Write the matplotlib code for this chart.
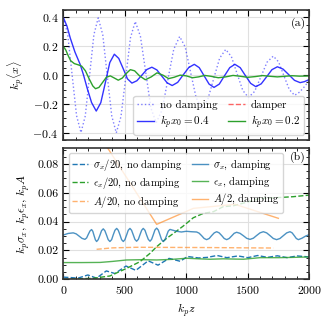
# two panel chart: centroid oscillation (a) and beam size / emittance / amplitude (b)

import matplotlib
matplotlib.use("Agg")
import matplotlib.pyplot as plt
from matplotlib.ticker import AutoMinorLocator

plt.rcParams["font.family"] = "serif"
plt.rcParams["font.serif"] = ["cmr10", "DejaVu Serif"]
plt.rcParams["mathtext.fontset"] = "cm"
plt.rcParams["axes.formatter.use_mathtext"] = True
plt.rcParams["font.size"] = 8.5

# panel (a): k_p <x> vs k_p z
z_nodamp = [0, 36, 72, 108, 144, 179, 214, 249, 284, 321, 357, 394, 431,
            469, 508, 546, 585, 627, 670, 712, 755, 803, 850, 898, 946,
            991, 1035, 1080, 1125, 1174, 1222, 1271, 1320, 1366, 1412, 1459,
            1505, 1555, 1606, 1656, 1707, 1750, 1793, 1837, 1880, 1920, 1960, 2000]
x_nodamp = [0.40, 0.283, 0.001, -0.281, -0.398, -0.282, 0.0, 0.281, 0.397, 0.280, 0.0, -0.283, -0.40,
            -0.287, -0.014, 0.259, 0.372, 0.269, 0.021, -0.227, -0.33, -0.242, -0.031, 0.180, 0.268,
            0.195, 0.019, -0.157, -0.23, -0.170, -0.026, 0.118, 0.178, 0.129, 0.012, -0.106,
            -0.155, -0.113, -0.012, 0.090, 0.132, 0.092, -0.004, -0.100, -0.14, -0.118, -0.08, -0.035]

z_x04 = [0, 30, 57, 95, 138, 165, 193, 230, 268, 305, 342, 378, 415, 451, 487, 522, 558,
         598, 639, 679, 720, 761, 803, 844, 885, 930, 975, 1020, 1065, 1105, 1145, 1185, 1225,
         1268, 1310, 1353, 1395, 1438, 1480, 1523, 1565, 1609, 1653, 1696, 1740,
         1786, 1833, 1879, 1925, 1960, 2000]
x_x04 = [0.40, 0.34, 0.257, 0.16, 0.073, 0.0, -0.087, -0.19, -0.249, -0.191, -0.052, 0.087, 0.145,
         0.116, 0.045, -0.026, -0.055, -0.039, 0.0, 0.039, 0.055, 0.036, -0.009, -0.053, -0.072,
         -0.050, 0.002, 0.053, 0.075, 0.052, -0.005, -0.062, -0.085, -0.062, -0.005, 0.052, 0.075,
         0.052, -0.003, -0.057, -0.08, -0.060, -0.011, 0.038, 0.058, 0.042, 0.003, -0.036, -0.052,
         -0.045, -0.03]

z_x02 = [0, 20, 40, 60, 90, 120, 150, 180, 210, 240, 262, 290, 320, 350, 382, 415, 447,
         480, 510, 545, 580, 620, 667, 715, 762, 810, 856, 900, 950, 1000, 1050, 1100, 1150,
         1200, 1260, 1320, 1380, 1440, 1500, 1560, 1620, 1680, 1740, 1800, 1860, 1920, 2000]
x_x02 = [0.20, 0.175, 0.135, 0.10, 0.08, 0.072, 0.062, 0.03, -0.025, -0.075, -0.094, -0.085,
         -0.05, -0.015, -0.005, -0.02, -0.035, -0.02, 0.01, 0.038, 0.03, -0.005, -0.032, -0.012,
         0.016, 0.0, -0.024, -0.015, 0.0, -0.005, -0.018, -0.012, -0.002, -0.008, -0.018, -0.012,
         -0.002, -0.008, -0.015, -0.01, -0.003, -0.008, -0.012, -0.008, -0.004, -0.007, -0.006]

# panel (b)
z_sig_nd = [0, 60, 120, 200, 270, 350, 420, 510, 590, 690, 770, 860, 950, 1010, 1100, 1170,
            1250, 1330, 1420, 1500, 1580, 1660, 1740, 1820, 1900, 2000]
sig_nd = [0.0015, 0.0012, 0.0008, 0.003, 0.0008, 0.0058, 0.004, 0.0092, 0.0062, 0.0128, 0.0098,
          0.0145, 0.0125, 0.0158, 0.0148, 0.0152, 0.0165, 0.015, 0.0162, 0.015, 0.0165, 0.0152,
          0.0163, 0.015, 0.0162, 0.0155]

z_eps_nd = [0, 244, 379, 515, 623, 705, 759, 840, 908, 976, 1057, 1138, 1220, 1301, 1382,
            1490, 1599, 1734, 1870, 2000]
eps_nd = [0.0, 0.0007, 0.0023, 0.0076, 0.0122, 0.018, 0.0226, 0.0284, 0.0326, 0.037, 0.0427,
          0.0457, 0.0469, 0.0504, 0.051, 0.0534, 0.0561, 0.0566, 0.0573, 0.0584]

z_amp_nd = [271, 400, 600, 900, 1200, 1500, 1707]
amp_nd = [0.0208, 0.0218, 0.0222, 0.0221, 0.022, 0.0218, 0.0217]

z_sig_d = [0, 40, 81, 105, 128, 152, 176, 190, 203, 217, 230, 240, 250, 261, 271,
           284, 298, 311, 325, 338, 352, 365, 379, 393, 406, 420, 434, 447, 461, 474, 488,
           501, 515, 528, 542, 555, 569, 582, 596, 610, 623, 637, 650, 664, 677, 691, 705,
           718, 732, 745, 759, 772, 786, 799, 813, 826, 840, 853, 867, 921, 960, 1000, 1040,
           1084, 1104, 1125, 1145, 1165, 1186, 1206, 1227, 1247, 1267, 1288, 1308, 1328,
           1348, 1369, 1389, 1409, 1436, 1464, 1491, 1518, 1545, 1572, 1599, 1626,
           1653, 1680, 1707, 1734, 1761, 1789, 1816, 1843, 1860, 1877, 1894, 1911, 1940, 1970, 2000]
sig_d = [0.0307, 0.0318, 0.0322, 0.0315, 0.0300, 0.0284, 0.0277, 0.0287, 0.0311, 0.0335, 0.0345,
         0.0333, 0.0304, 0.0274, 0.0262, 0.0275, 0.0306, 0.0337, 0.0350, 0.0337, 0.0306, 0.0275,
         0.0262, 0.0275, 0.0308, 0.0340, 0.0353, 0.0340, 0.0308, 0.0275, 0.0262, 0.0275, 0.0308,
         0.0340, 0.0353, 0.0340, 0.0308, 0.0277, 0.0264, 0.0277, 0.0308, 0.0340, 0.0353, 0.0340,
         0.0308, 0.0277, 0.0264, 0.0277, 0.0310, 0.0342, 0.0355, 0.0342, 0.0308, 0.0275, 0.0262,
         0.0274, 0.0304, 0.0334, 0.0346, 0.0333, 0.0328, 0.0333, 0.0330, 0.0328, 0.0320, 0.0302,
         0.0283, 0.0275, 0.0283, 0.0303, 0.0322, 0.0330, 0.0322, 0.0303, 0.0283, 0.0275, 0.0283,
         0.0301, 0.0319, 0.0326, 0.0319, 0.0302, 0.0284, 0.0277, 0.0285, 0.0304, 0.0322, 0.0330,
         0.0322, 0.0303, 0.0283, 0.0275, 0.0283, 0.0303, 0.0322, 0.0330, 0.0322, 0.0303, 0.0283,
         0.0275, 0.0285, 0.0300, 0.0310]

z_eps_d = [0, 150, 300, 400, 515, 640, 759, 880, 1003, 1100, 1192, 1300, 1463, 1599, 1750, 1870, 2000]
eps_d = [0.0116, 0.0116, 0.0117, 0.0124, 0.0134, 0.0136, 0.0134, 0.0138, 0.0146, 0.0142, 0.0139,
         0.0142, 0.0139, 0.0150, 0.0150, 0.0152, 0.0155]

z_amp_d = [271, 759, 1057, 1396, 1748]
amp_d = [0.103, 0.0381, 0.0492, 0.052, 0.0423]


def style_ax(ax):
  ax.tick_params(which="both", direction="in", top=True, right=True)
  ax.tick_params(which="major", length=4)
  ax.tick_params(which="minor", length=2)
  ax.xaxis.set_minor_locator(AutoMinorLocator(5))
  ax.yaxis.set_minor_locator(AutoMinorLocator(4))
  ax.grid(True, color="0.88", linewidth=0.8)
  for s in ax.spines.values():
    s.set_color("0.2")
    s.set_linewidth(1.2)


fig = plt.figure(figsize=(3.33, 3.28), dpi=100)
ax1 = fig.add_axes([0.190, 0.573, 0.739, 0.398])
ax2 = fig.add_axes([0.190, 0.1485, 0.739, 0.400])

ax1.plot(z_nodamp, x_nodamp, ":", color="b", alpha=0.5, lw=1.0, label="no damping")
ax1.plot(z_x04, x_x04, "-", color="b", alpha=0.8, lw=1.0, label=r"$k_px_0=0.4$")
ax1.plot([], [], "--", color="r", alpha=0.6, lw=1.0, label="damper")
ax1.plot(z_x02, x_x02, "-", color="C2", lw=1.0, label=r"$k_px_0=0.2$")
ax1.set_xlim(0, 2000)
ax1.set_ylim(-0.45, 0.455)
ax1.set_xticks([0, 500, 1000, 1500, 2000])
ax1.set_xticklabels([])
ax1.set_yticks([-0.4, -0.2, 0.0, 0.2, 0.4])
ax1.set_ylabel(r"$k_p\langle x\rangle$")
style_ax(ax1)
ax1.text(0.985, 0.935, "(a)", transform=ax1.transAxes, ha="right", va="top")
ax1.legend(loc="lower right", ncol=2, fontsize=8, handlelength=1.5,
           columnspacing=1.0, borderpad=0.35, labelspacing=0.3, handletextpad=0.5)

ax2.plot(z_sig_nd, sig_nd, "--", color="C0", lw=1.0, label=r"$\sigma_x/20$, no damping")
ax2.plot(z_eps_nd, eps_nd, "--", color="C2", lw=1.0, label=r"$\epsilon_x/20$, no damping")
ax2.plot(z_amp_nd, amp_nd, "--", color="C1", alpha=0.6, lw=1.0, label=r"$A/20$, no damping")
ax2.plot(z_sig_d, sig_d, "-", color="C0", alpha=0.8, lw=1.0, label=r"$\sigma_x$, damping")
ax2.plot(z_eps_d, eps_d, "-", color="C2", alpha=0.8, lw=1.0, label=r"$\epsilon_x$, damping")
ax2.plot(z_amp_d, amp_d, "-", color="C1", alpha=0.6, lw=1.0, label=r"$A/2$, damping")
ax2.set_xlim(0, 2000)
ax2.set_ylim(0, 0.091)
ax2.set_xticks([0, 500, 1000, 1500, 2000])
ax2.set_yticks([0.0, 0.02, 0.04, 0.06, 0.08])
ax2.set_yticklabels(["0.00", "0.02", "0.04", "0.06", "0.08"])
ax2.set_xlabel(r"$k_pz$")
ax2.set_ylabel(r"$k_p\sigma_x,\,k_p\epsilon_x,\,k_pA$")
style_ax(ax2)
ax2.text(0.985, 0.975, "(b)", transform=ax2.transAxes, ha="right", va="top")
ax2.legend(loc="upper left", ncol=2, fontsize=7.6, handlelength=1.5,
           columnspacing=0.9, borderpad=0.3, labelspacing=0.25, handletextpad=0.5,
           bbox_to_anchor=(0.0, 1.0))

fig.align_ylabels([ax1, ax2])
plt.savefig("out.png", dpi=100)
